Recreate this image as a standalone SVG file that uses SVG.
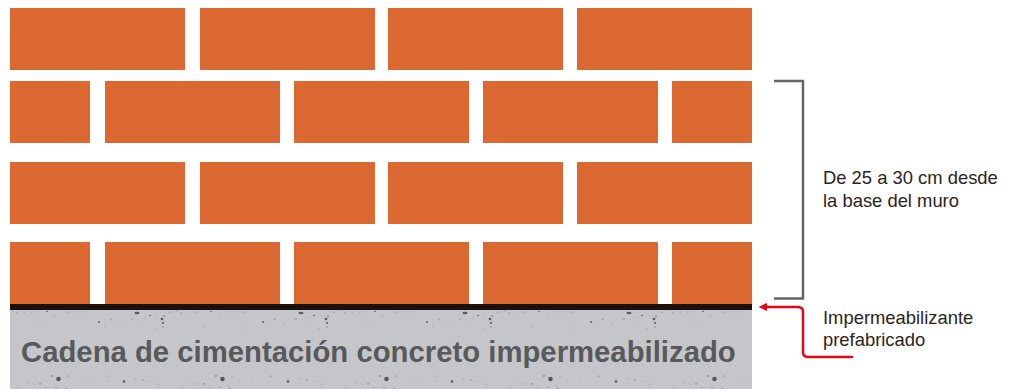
<svg xmlns="http://www.w3.org/2000/svg" width="1015" height="389" viewBox="0 0 1015 389">
<style>
.b{fill:#da6830}
.t{font-family:"Liberation Sans",Arial,sans-serif;font-size:18.4px;fill:#2b2320}
.h{font-family:"Liberation Sans",Arial,sans-serif;font-size:29.3px;font-weight:700;fill:#58595b}
.s{fill:#58595b}
</style>
<defs>
<pattern id="speck" patternUnits="userSpaceOnUse" x="10" y="310" width="164" height="79">
<g class="s">
<ellipse cx="127" cy="3" rx="2.500" ry="1.300"/><circle cx="140" cy="5.500" r=".8"/><circle cx="152" cy="9" r="1.300"/><circle cx="153" cy="13" r="1.100"/><circle cx="154" cy="6" r=".7"/><circle cx="153" cy="17" r=".6"/><circle cx="135" cy="7" r=".4"/><circle cx="146" cy="5" r=".4"/>
<circle cx="89" cy="12" r=".9"/><circle cx="101" cy="9" r=".6"/><circle cx="122" cy="9" r=".6"/><circle cx="7" cy="3" r=".6"/><circle cx="22" cy="2" r=".5"/><circle cx="37" cy="1.500" r=".8"/><circle cx="58" cy="2" r=".5"/><circle cx="45" cy="6" r=".4"/><circle cx="70" cy="2" r=".5"/>
<circle cx="3" cy="1" r=".4"/><circle cx="14" cy="2" r=".4"/><circle cx="30" cy="17" r=".4"/><circle cx="70" cy="18" r=".4"/><circle cx="110" cy="14" r=".4"/><circle cx="160" cy="2" r=".5"/><circle cx="95" cy="16" r=".4"/><circle cx="132" cy="16" r=".4"/><circle cx="145" cy="19" r=".4"/>
<circle cx="48.500" cy="69" r="2.300"/><circle cx="42" cy="66" r=".7"/><circle cx="58" cy="66" r=".6"/><circle cx="114" cy="71.500" r="1.300"/><circle cx="97" cy="66" r=".5"/><circle cx="133" cy="70" r=".6"/><circle cx="140" cy="71" r=".4"/><circle cx="148" cy="74" r=".5"/><circle cx="30" cy="74" r=".7"/><circle cx="24" cy="74" r=".4"/><circle cx="18" cy="73" r=".4"/><circle cx="54" cy="76" r=".4"/><circle cx="46" cy="77" r=".5"/><circle cx="56" cy="78" r=".6"/><circle cx="36" cy="77" r=".4"/><circle cx="8" cy="77" r=".4"/><circle cx="78" cy="72" r=".4"/><circle cx="125" cy="69" r=".4"/>
</g>
</pattern>
<marker id="ah" markerUnits="userSpaceOnUse" markerWidth="9" markerHeight="10" refX="0" refY="5" orient="auto-start-reverse">
<path d="M0 1L8.500 5L0 9Z" fill="#e30613"/>
</marker>
</defs>
<g id="wall">
<rect class="b" x="10" y="8" width="175" height="62"/><rect class="b" x="200" y="8" width="175" height="62"/><rect class="b" x="388" y="8" width="175" height="62"/><rect class="b" x="577" y="8" width="175" height="62"/>
<rect class="b" x="10" y="81" width="80" height="62"/><rect class="b" x="105" y="81" width="175" height="62"/><rect class="b" x="294" y="81" width="175" height="62"/><rect class="b" x="483" y="81" width="175" height="62"/><rect class="b" x="672" y="81" width="80" height="62"/>
<rect class="b" x="10" y="162" width="175" height="62"/><rect class="b" x="200" y="162" width="175" height="62"/><rect class="b" x="388" y="162" width="175" height="62"/><rect class="b" x="577" y="162" width="175" height="62"/>
<rect class="b" x="10" y="242" width="80" height="62"/><rect class="b" x="105" y="242" width="175" height="62"/><rect class="b" x="294" y="242" width="175" height="62"/><rect class="b" x="483" y="242" width="175" height="62"/><rect class="b" x="672" y="242" width="80" height="62"/>
</g>
<g id="foundation">
<rect x="10" y="310" width="742" height="79" fill="#c5c6ca"/>
<rect x="10" y="310" width="742" height="79" fill="url(#speck)"/>
<text class="h" x="21" y="362">Cadena de cimentación concreto impermeabilizado</text>
</g>
<rect id="membrane" x="10" y="304" width="742" height="6" fill="#1a110d"/>
<g id="connectors" fill="none">
<path d="M774 81H803V298.500H774" stroke="#636569" stroke-width="2.500"/>
<path d="M767 307H798Q803 307 803 312V352Q803 357 808 357H852" stroke="#e30613" stroke-width="2.500" stroke-linecap="round" marker-start="url(#ah)"/>
</g>
<g id="label-height"><text class="t"><tspan x="823" y="184">De 25 a 30 cm desde</tspan><tspan x="823" y="206.500">la base del muro</tspan></text></g>
<g id="label-membrane"><text class="t"><tspan x="823" y="324">Impermeabilizante</tspan><tspan x="823" y="346">prefabricado</tspan></text></g>
</svg>
